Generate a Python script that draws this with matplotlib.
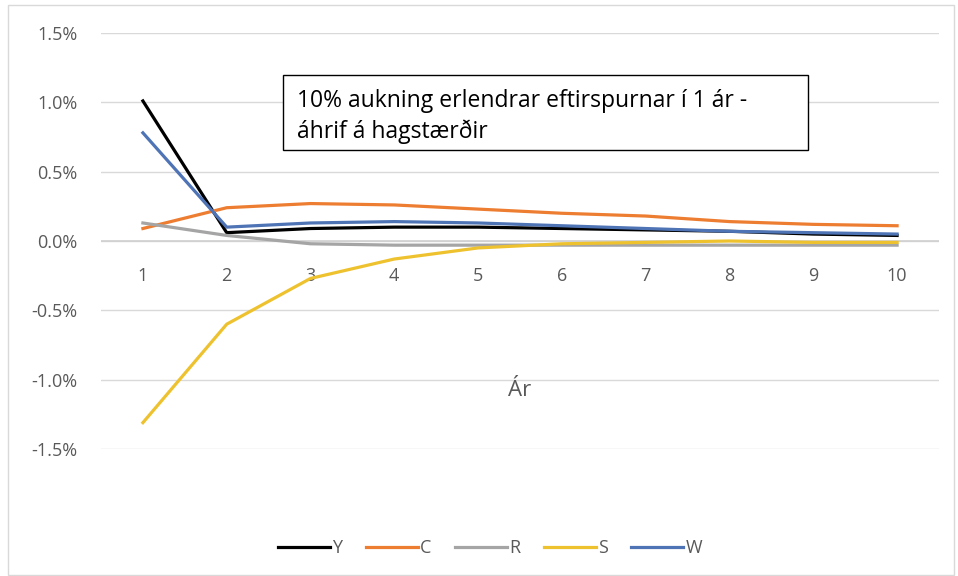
import matplotlib.pyplot as plt
from matplotlib.patches import Rectangle

plt.rcParams['font.family'] = ['Open Sans', 'DejaVu Sans']

years = [1, 2, 3, 4, 5, 6, 7, 8, 9, 10]
Y = [1.01, 0.06, 0.09, 0.10, 0.10, 0.09, 0.08, 0.07, 0.05, 0.04]
C = [0.09, 0.24, 0.27, 0.26, 0.23, 0.20, 0.18, 0.14, 0.12, 0.11]
R = [0.13, 0.04, -0.02, -0.03, -0.03, -0.03, -0.03, -0.03, -0.03, -0.03]
S = [-1.31, -0.60, -0.27, -0.13, -0.05, -0.02, -0.01, 0.00, -0.01, -0.01]
W = [0.78, 0.10, 0.13, 0.14, 0.13, 0.11, 0.09, 0.07, 0.06, 0.05]
yticks = [-1.5, -1.0, -0.5, 0.0, 0.5, 1.0, 1.5]

series = [('Y', Y, '#000000'), ('C', C, '#ED7D31'), ('R', R, '#A5A5A5'),
          ('S', S, '#EEC22E'), ('W', W, '#4F74B5')]

fig = plt.figure(figsize=(9.58, 5.76), dpi=100)
fig.patches.append(Rectangle((8/958, 0.002), 946/958, 1 - 5/576 - 0.002, transform=fig.transFigure,
                             fill=False, edgecolor='#d9d9d9', lw=1))
ax = fig.add_axes([101/958, 1 - 449/576, 838/958, 416/576])

for name, vals, col in series:
    ax.plot(years, vals, color=col, lw=2.3, label=name, zorder=3)

ax.set_xlim(0.5, 10.5)
ax.set_ylim(-1.5, 1.5)
ax.set_yticks(yticks)
ax.set_yticklabels(['%.1f%%' % v for v in yticks], color='#595959', fontsize=13)
ax.grid(axis='y', color='#d9d9d9', lw=1)
ax.set_axisbelow(True)
ax.axhline(0, color='#d0d0d0', lw=1.2, zorder=2)
for s in ax.spines.values():
    s.set_visible(False)
ax.tick_params(axis='y', length=0, pad=17)
ax.spines['bottom'].set_position(('data', 0))
ax.set_xticks(years)
ax.set_xticklabels([str(y) for y in years], color='#595959', fontsize=13)
ax.tick_params(axis='x', length=0, pad=19)

ax.text(5.5, -1.08, 'Ár', ha='center', va='center', fontsize=16, color='#595959')

fig.patches.append(Rectangle((283/958, 1 - 150/576), 525/958, 75/576, transform=fig.transFigure,
                             fill=True, facecolor='white', edgecolor='#000000', lw=1, zorder=5))
fig.text(297/958, 1 - 89/576, '10% aukning erlendrar eftirspurnar í 1 ár -\náhrif á hagstærðir',
         ha='left', va='top', fontsize=16.5, color='#000000', linespacing=1.35, zorder=6)

fig.legend(loc='center', bbox_to_anchor=(490/958, 1 - 548/576), ncol=5, frameon=False,
           fontsize=13, handlelength=2.9, handletextpad=0.1, columnspacing=1.3,
           labelcolor='#595959')

fig.savefig('out.png', dpi=100)
